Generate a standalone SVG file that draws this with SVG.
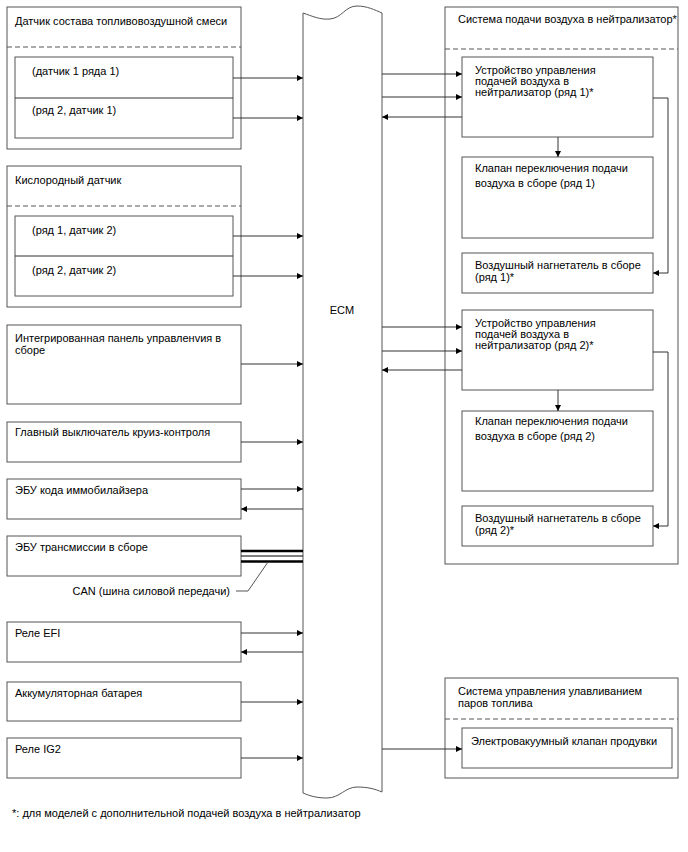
<svg xmlns="http://www.w3.org/2000/svg" width="688" height="852" viewBox="0 0 688 852">
<style>
.box{fill:#fff;stroke:#555;stroke-width:1}
.dash{stroke:#555;stroke-width:1;stroke-dasharray:5,3;fill:none}
.t{font-family:"Liberation Sans",Arial,sans-serif;font-size:11px;fill:#000}
.c{stroke:#333;stroke-width:1;fill:none}
.can{stroke:#000;fill:none}
</style>
<defs>
<marker id="ah" viewBox="0 0 10 10" refX="10" refY="5" markerWidth="10" markerHeight="6" markerUnits="userSpaceOnUse" orient="auto">
<path d="M0,0 L10,5 L0,10 z" fill="#000"/>
</marker>
</defs>
<rect width="688" height="852" fill="#fff"/>

<g id="ecm">
<path class="box" d="M303,13 C312,16 320,20 330,19 C342,18 345,6 357,6 C367,6 375,10 382,13 L382,792 C375,789 368,787 357,787 C345,787 340,798 327,798 C317,798 310,796 303,793 Z"/>
<text class="t" x="342" y="314" text-anchor="middle">ECM</text>
</g>

<g id="af-sensor">
<rect class="box" x="7" y="7" width="234" height="142"/>
<text class="t" x="15" y="25">Датчик состава топливовоздушной смеси</text>
<line class="dash" x1="7" y1="47" x2="241" y2="47"/>
<rect class="box" x="15" y="57" width="218" height="81"/>
<line class="c" x1="15" y1="98" x2="233" y2="98"/>
<text class="t" x="32" y="75">(датчик 1 ряда 1)</text>
<text class="t" x="32" y="114">(ряд 2, датчик 1)</text>
</g>

<g id="o2-sensor">
<rect class="box" x="7" y="166" width="234" height="141"/>
<text class="t" x="15" y="184">Кислородный датчик</text>
<line class="dash" x1="7" y1="206" x2="241" y2="206"/>
<rect class="box" x="15" y="216" width="218" height="80"/>
<line class="c" x1="15" y1="256" x2="233" y2="256"/>
<text class="t" x="32" y="234">(ряд 1, датчик 2)</text>
<text class="t" x="32" y="274">(ряд 2, датчик 2)</text>
</g>

<g id="panel">
<rect class="box" x="7" y="325" width="234" height="79"/>
<text class="t" x="15" y="342">Интегрированная панель управленvия в</text>
<text class="t" x="15" y="354">сборе</text>
</g>

<g id="cruise">
<rect class="box" x="7" y="422" width="234" height="40"/>
<text class="t" x="15" y="436">Главный выключатель круиз-контроля</text>
</g>

<g id="immob">
<rect class="box" x="7" y="479" width="234" height="40"/>
<text class="t" x="15" y="494">ЭБУ кода иммобилайзера</text>
</g>

<g id="trans">
<rect class="box" x="7" y="536" width="234" height="40"/>
<text class="t" x="15" y="551">ЭБУ трансмиссии в сборе</text>
</g>

<g id="efi">
<rect class="box" x="7" y="622" width="234" height="40"/>
<text class="t" x="15" y="637">Реле EFI</text>
</g>

<g id="battery">
<rect class="box" x="7" y="682" width="234" height="39"/>
<text class="t" x="15" y="697">Аккумуляторная батарея</text>
</g>

<g id="ig2">
<rect class="box" x="7" y="738" width="234" height="40"/>
<text class="t" x="15" y="753">Реле IG2</text>
</g>

<g id="air-system">
<rect class="box" x="445" y="7" width="233" height="557"/>
<text class="t" x="458" y="23">Система подачи воздуха в нейтрализатор*</text>
<line class="dash" x1="445" y1="49" x2="678" y2="49"/>
</g>

<g id="air-ctrl-1">
<rect class="box" x="462" y="57" width="191" height="80"/>
<text class="t" x="475" y="74">Устройство управления</text>
<text class="t" x="475" y="85">подачей воздуха в</text>
<text class="t" x="475" y="96">нейтрализатор (ряд 1)*</text>
</g>

<g id="valve-1">
<rect class="box" x="462" y="157" width="191" height="81"/>
<text class="t" x="475" y="172">Клапан переключения подачи</text>
<text class="t" x="475" y="187">воздуха в сборе (ряд 1)</text>
</g>

<g id="pump-1">
<rect class="box" x="462" y="253" width="191" height="40"/>
<text class="t" x="475" y="269">Воздушный нагнетатель в сборе</text>
<text class="t" x="475" y="281">(ряд 1)*</text>
</g>

<g id="air-ctrl-2">
<rect class="box" x="462" y="310" width="191" height="80"/>
<text class="t" x="475" y="327">Устройство управления</text>
<text class="t" x="475" y="338">подачей воздуха в</text>
<text class="t" x="475" y="349">нейтрализатор (ряд 2)*</text>
</g>

<g id="valve-2">
<rect class="box" x="462" y="411" width="191" height="80"/>
<text class="t" x="475" y="425">Клапан переключения подачи</text>
<text class="t" x="475" y="440">воздуха в сборе (ряд 2)</text>
</g>

<g id="pump-2">
<rect class="box" x="462" y="506" width="191" height="40"/>
<text class="t" x="475" y="522">Воздушный нагнетатель в сборе</text>
<text class="t" x="475" y="534">(ряд 2)*</text>
</g>

<g id="evap">
<rect class="box" x="445" y="678" width="233" height="100"/>
<text class="t" x="458" y="695">Система управления улавливанием</text>
<text class="t" x="458" y="707">паров топлива</text>
<line class="dash" x1="445" y1="719" x2="678" y2="719"/>
<rect class="box" x="462" y="728" width="210" height="40"/>
<text class="t" x="471" y="745">Электровакуумный клапан продувки</text>
</g>

<g id="connectors">
<line class="c" x1="233" y1="78" x2="303" y2="78" marker-end="url(#ah)"/>
<line class="c" x1="233" y1="118" x2="303" y2="118" marker-end="url(#ah)"/>
<line class="c" x1="233" y1="236" x2="303" y2="236" marker-end="url(#ah)"/>
<line class="c" x1="233" y1="276" x2="303" y2="276" marker-end="url(#ah)"/>
<line class="c" x1="241" y1="364" x2="303" y2="364" marker-end="url(#ah)"/>
<line class="c" x1="241" y1="442" x2="303" y2="442" marker-end="url(#ah)"/>
<line class="c" x1="241" y1="489" x2="303" y2="489" marker-end="url(#ah)"/>
<line class="c" x1="303" y1="509" x2="241" y2="509" marker-end="url(#ah)"/>
<line class="can" x1="241" y1="551" x2="303" y2="551" stroke-width="2.5"/>
<line class="can" x1="241" y1="556" x2="303" y2="556" stroke-width="1"/>
<line class="can" x1="241" y1="561.5" x2="303" y2="561.5" stroke-width="2.5"/>
<polyline points="236,591 248,591 268,562" fill="none" stroke="#555" stroke-width="1"/>
<line class="c" x1="241" y1="633" x2="303" y2="633" marker-end="url(#ah)"/>
<line class="c" x1="303" y1="652" x2="241" y2="652" marker-end="url(#ah)"/>
<line class="c" x1="241" y1="702" x2="303" y2="702" marker-end="url(#ah)"/>
<line class="c" x1="241" y1="758" x2="303" y2="758" marker-end="url(#ah)"/>

<line class="c" x1="382" y1="74" x2="462" y2="74" marker-end="url(#ah)"/>
<line class="c" x1="382" y1="97" x2="462" y2="97" marker-end="url(#ah)"/>
<line class="c" x1="462" y1="117" x2="382" y2="117" marker-end="url(#ah)"/>
<line class="c" x1="558" y1="137" x2="558" y2="157" marker-end="url(#ah)"/>
<polyline class="c" points="653,98 668,98 668,273 653,273" marker-end="url(#ah)"/>

<line class="c" x1="382" y1="327" x2="462" y2="327" marker-end="url(#ah)"/>
<line class="c" x1="382" y1="351" x2="462" y2="351" marker-end="url(#ah)"/>
<line class="c" x1="462" y1="370" x2="382" y2="370" marker-end="url(#ah)"/>
<line class="c" x1="558" y1="390" x2="558" y2="411" marker-end="url(#ah)"/>
<polyline class="c" points="653,352 668,352 668,526 653,526" marker-end="url(#ah)"/>

<line class="c" x1="382" y1="749" x2="462" y2="749" marker-end="url(#ah)"/>
</g>

<text class="t" x="230" y="595" text-anchor="end">CAN (шина силовой передачи)</text>
<text class="t" x="12" y="817">*: для моделей с дополнительной подачей воздуха в нейтрализатор</text>
</svg>
